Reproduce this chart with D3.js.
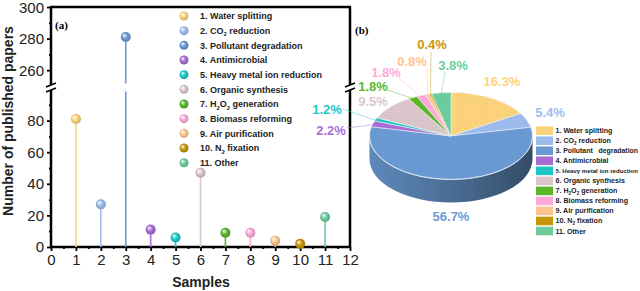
<!DOCTYPE html>
<html>
<head>
<meta charset="utf-8">
<script src="https://cdn.jsdelivr.net/npm/d3@7"></script>
<style>
  body { margin: 0; background: #fff; }
  svg { display: block; font-family: "Liberation Sans", Arial, sans-serif; }
</style>
</head>
<body>
<div id="chart"></div>
<script>
// data ----------------------------------
const samples = [1, 2, 3, 4, 5, 6, 7, 8, 9, 10, 11];
const categories = [
  '1. Water splitting', '2. CO{2} reduction', '3. Pollutant degradation', '4. Antimicrobial',
  '5. Heavy metal ion reduction', '6. Organic synthesis', '7. H{2}O{2} generation',
  '8. Biomass reforming', '9. Air purification', '10. N{2} fixation', '11. Other'
];
const pieLegend = categories.map((c, i) => i === 2 ? '3. Pollutant\u00a0\u00a0 degradation' : c);
const papers = [81, 27, 281, 11, 6, 47, 9, 9, 4, 2, 19];
const colors = ['#fdd47c', '#9dbdf0', '#6a9bd4', '#a96ed8', '#1ec8c8', '#dcc8cc',
  '#5cb82a', '#ffa9d9', '#ffc58e', '#c8960a', '#6ecd9e'];
const xTicks = d3.range(0, 13);
const yTicksLow = [0, 20, 40, 60, 80];
const yTicksHigh = [260, 280, 300];

const W = 640, H = 291;
const svg = d3.select('#chart').append('svg').attr('width', W).attr('height', H);
const defs = svg.append('defs');

// sphere gradients for the lollipop heads
colors.forEach((c, i) => {
  const g = defs.append('radialGradient').attr('id', 'ball' + i)
    .attr('cx', '50%').attr('cy', '50%').attr('r', '60%').attr('fx', '32%').attr('fy', '30%');
  g.append('stop').attr('offset', '0%').attr('stop-color', '#fff');
  g.append('stop').attr('offset', '45%').attr('stop-color', c);
  g.append('stop').attr('offset', '100%').attr('stop-color', d3.color(c).darker(0.8));
});
const dots = defs.append('pattern').attr('id', 'dots').attr('width', 3).attr('height', 3)
  .attr('patternUnits', 'userSpaceOnUse');
dots.append('circle').attr('cx', 1).attr('cy', 1).attr('r', 0.55).attr('fill', 'rgba(0,0,0,0.09)');

// subscript-aware text: "{n}" becomes a lowered small digit
function richText(sel, str, size) {
  let shift = 0;
  str.split(/(\{\d\})/).forEach(part => {
    if (!part) return;
    const m = part.match(/^\{(\d)\}$/);
    if (m) {
      sel.append('tspan').attr('font-size', size * 0.65).attr('dy', size * 0.25 - shift).text(m[1]);
      shift = size * 0.25;
    } else {
      sel.append('tspan').attr('dy', -shift).text(part);
      shift = 0;
    }
  });
}

// ---------------- (a) lollipop chart ----------------
const x = d3.scaleLinear().domain([0, 12]).range([51, 350]);
const yLo = d3.scaleLinear().domain([0, 100]).range([247, 89]);
const yHi = d3.scaleLinear().domain([250, 300]).range([86, 7]);
const yb = (yLo(100) + yHi(250)) / 2;
const yv = v => v >= 250 ? yHi(v) : yLo(v);

const left = svg.append('g');

function styleAxis(g, fs) {
  g.select('.domain').remove();
  g.selectAll('line').attr('stroke', '#000').attr('stroke-width', 1.8);
  g.selectAll('text').attr('font-size', fs).attr('fill', '#222')
    .attr('font-family', '"Liberation Sans", Arial, sans-serif');
}

left.append('g').attr('transform', `translate(0,${yLo(0)})`)
  .call(d3.axisBottom(x).tickValues(xTicks).tickSize(4).tickSizeOuter(0).tickPadding(3))
  .call(g => styleAxis(g, 15));
left.append('g').attr('transform', `translate(0,${yLo(0)})`)
  .call(d3.axisBottom(x).tickValues(d3.range(0.5, 12, 1)).tickSize(2).tickFormat(''))
  .call(g => styleAxis(g, 15));
left.append('g').attr('transform', `translate(${x(0)},0)`)
  .call(d3.axisLeft(yLo).tickValues(yTicksLow).tickSize(4).tickPadding(3))
  .call(g => styleAxis(g, 15));
left.append('g').attr('transform', `translate(${x(0)},0)`)
  .call(d3.axisLeft(yLo).tickValues([10, 30, 50, 70, 90]).tickSize(2).tickFormat(''))
  .call(g => styleAxis(g, 15));
left.append('g').attr('transform', `translate(${x(0)},0)`)
  .call(d3.axisLeft(yHi).tickValues(yTicksHigh).tickSize(4).tickPadding(3))
  .call(g => styleAxis(g, 15));
left.append('g').attr('transform', `translate(${x(0)},0)`)
  .call(d3.axisLeft(yHi).tickValues([270, 290]).tickSize(2).tickFormat(''))
  .call(g => styleAxis(g, 15));
// keep the top "300" inside the picture
left.selectAll('text').filter(function () { return this.textContent === '300'; }).attr('dy', '0.36em');

// frame with broken verticals
const frame = left.append('g').attr('stroke', '#000').attr('stroke-width', 2.5).attr('fill', 'none');
frame.append('line').attr('x1', x(0) - 1).attr('x2', x(12) + 1).attr('y1', yHi(300)).attr('y2', yHi(300));
frame.append('line').attr('x1', x(0) - 1).attr('x2', x(12) + 1).attr('y1', yLo(0)).attr('y2', yLo(0));
[x(0), x(12)].forEach(xx => {
  frame.append('line').attr('x1', xx).attr('x2', xx).attr('y1', yHi(300)).attr('y2', yb - 2.5);
  frame.append('line').attr('x1', xx).attr('x2', xx).attr('y1', yb + 2.5).attr('y2', yLo(0));
  [-2.5, 2.5].forEach(o => {
    frame.append('line').attr('stroke-width', 1.8)
      .attr('x1', xx - 5).attr('y1', yb + o + 2).attr('x2', xx + 5).attr('y2', yb + o - 2);
  });
});

// stems and heads
const lolli = left.append('g');
samples.forEach((s, i) => {
  const v = papers[i];
  if (v >= 250) {
    lolli.append('line').attr('x1', x(s)).attr('x2', x(s)).attr('y1', yLo(0)).attr('y2', yb + 4)
      .attr('stroke', colors[i]).attr('stroke-width', 1.6);
    lolli.append('line').attr('x1', x(s)).attr('x2', x(s)).attr('y1', yb - 4).attr('y2', yv(v))
      .attr('stroke', colors[i]).attr('stroke-width', 1.6);
  } else {
    lolli.append('line').attr('x1', x(s)).attr('x2', x(s)).attr('y1', yLo(0)).attr('y2', yv(v))
      .attr('stroke', colors[i]).attr('stroke-width', 1.6);
  }
  lolli.append('circle').attr('cx', x(s)).attr('cy', yv(v)).attr('r', 5)
    .attr('fill', `url(#ball${i})`);
});

// legend (a)
const legA = left.append('g');
categories.forEach((c, i) => {
  const yy = 16 + i * 14.67;
  legA.append('circle').attr('cx', 184).attr('cy', yy).attr('r', 4.5).attr('fill', `url(#ball${i})`);
  const t = legA.append('text').attr('x', 200).attr('y', yy + 3.3)
    .attr('font-size', 9).attr('font-weight', 'bold').attr('fill', '#222');
  richText(t, c, 9);
});

left.append('text').attr('x', 55).attr('y', 29).text('(a)')
  .attr('font-family', '"Liberation Serif", "Times New Roman", serif')
  .attr('font-weight', 'bold').attr('font-size', 11);
left.append('text').attr('x', 201).attr('y', 287).attr('text-anchor', 'middle')
  .attr('font-size', 14).attr('font-weight', 'bold').attr('fill', '#222').text('Samples');
left.append('text').attr('transform', 'translate(13,121) rotate(-90)').attr('text-anchor', 'middle')
  .attr('font-size', 14).attr('font-weight', 'bold').attr('fill', '#222').text('Number of published papers');

// ---------------- (b) 3D pie ----------------
const right = svg.append('g');
right.append('text').attr('x', 355).attr('y', 34).text('(b)')
  .attr('font-family', '"Liberation Serif", "Times New Roman", serif')
  .attr('font-weight', 'bold').attr('font-size', 11);

const cx = 451, cy = 136, rx = 81.5, ry = 43.5, depth = 23;
const arcs = d3.pie().sort(null).value(d => d)(papers);
const total = d3.sum(papers);
const pct = d3.format('.1%');
const pt = (a, dy = 0) => [cx + rx * Math.sin(a), cy - ry * Math.cos(a) + dy];

// side walls (front half only)
arcs.forEach((a, i) => {
  const a0 = Math.max(a.startAngle, Math.PI / 2), a1 = Math.min(a.endAngle, Math.PI * 1.5);
  if (a0 >= a1) return;
  const base = d3.color(colors[i]);
  const gid = 'side' + i;
  const g = defs.append('linearGradient').attr('id', gid).attr('gradientUnits', 'userSpaceOnUse')
    .attr('x1', cx - rx).attr('x2', cx + rx).attr('y1', 0).attr('y2', 0);
  g.append('stop').attr('offset', '0%').attr('stop-color', base.darker(0.35));
  g.append('stop').attr('offset', '50%').attr('stop-color', base.darker(1.0));
  g.append('stop').attr('offset', '100%').attr('stop-color', base.darker(2.0));
  const lg = a1 - a0 > Math.PI ? 1 : 0;
  const p0 = pt(a0), p1 = pt(a1), q1 = pt(a1, depth), q0 = pt(a0, depth);
  right.append('path')
    .attr('d', `M${p0}A${rx},${ry} 0 ${lg} 1 ${p1}L${q1}A${rx},${ry} 0 ${lg} 0 ${q0}Z`)
    .attr('fill', `url(#${gid})`);
});

// top slices
arcs.forEach((a, i) => {
  const lg = a.endAngle - a.startAngle > Math.PI ? 1 : 0;
  const d = `M${cx},${cy}L${pt(a.startAngle)}A${rx},${ry} 0 ${lg} 1 ${pt(a.endAngle)}Z`;
  right.append('path').attr('d', d).attr('fill', colors[i])
    .attr('stroke', '#f2f2f2').attr('stroke-width', 0.6);
  right.append('path').attr('d', d).attr('fill', 'url(#dots)');
});
// light rim along the front edge
right.append('path')
  .attr('d', `M${pt(Math.PI / 2)}A${rx},${ry} 0 0 1 ${pt(Math.PI * 1.5)}`)
  .attr('fill', 'none').attr('stroke', '#dce6f2').attr('stroke-width', 0.8);

// percentage labels (hand-placed like the original) and leader lines
const labelPos = [[502, 86], [550, 117], [451, 221], [331, 135], [327, 114], [373, 106],
  [373, 91], [386, 77], [412, 66], [432, 49], [453, 70]];
const leadFrom = [null, null, null, [347, 128], [343, 109], null,
  [388, 90], [399, 78], [427, 69], [431, 52], [445, 72]];
arcs.forEach((a, i) => {
  if (leadFrom[i]) {
    const m = pt((a.startAngle + a.endAngle) / 2);
    right.append('line').attr('x1', leadFrom[i][0]).attr('y1', leadFrom[i][1])
      .attr('x2', m[0]).attr('y2', m[1] + 1)
      .attr('stroke', colors[i]).attr('stroke-width', 0.7).attr('stroke-dasharray', '1.5,0.8');
  }
  right.append('text').attr('x', labelPos[i][0]).attr('y', labelPos[i][1])
    .attr('text-anchor', 'middle').attr('font-size', 13).attr('font-weight', 'bold')
    .attr('fill', colors[i]).text(pct(papers[i] / total));
});

// legend (b)
const legB = right.append('g');
pieLegend.forEach((c, i) => {
  const yy = 130.7 + i * 10.03;
  legB.append('rect').attr('x', 536).attr('y', yy - 4.3).attr('width', 17).attr('height', 8.6)
    .attr('fill', colors[i]);
  legB.append('rect').attr('x', 536).attr('y', yy - 4.3).attr('width', 17).attr('height', 8.6)
    .attr('fill', 'url(#dots)');
  const t = legB.append('text').attr('x', 555.5).attr('y', yy + 2.5)
    .attr('font-weight', 'bold').attr('fill', '#222');
  let fs = 7.1;
  t.attr('font-size', fs);
  richText(t, c, fs);
  // shrink anything that would run past the right edge
  const maxW = W - 2 - 555.5;
  const len = t.node().getComputedTextLength();
  if (len > maxW) {
    fs = fs * maxW / len;
    t.selectAll('tspan').remove();
    t.attr('font-size', fs);
    richText(t, c, fs);
  }
});
</script>
</body>
</html>
